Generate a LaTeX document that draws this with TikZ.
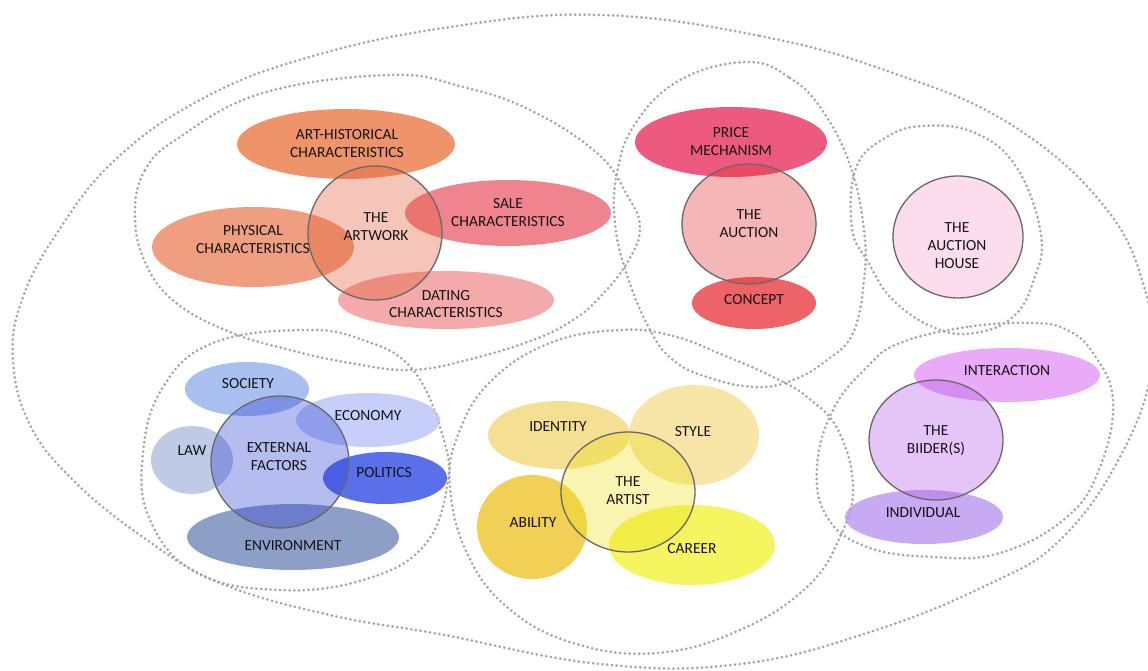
\documentclass[tikz,border=0pt]{standalone}
\usepackage{fontspec}
\setmainfont{Carlito}
\usetikzlibrary{shapes.geometric}
\definecolor{dotgray}{RGB}{165,165,165}
\definecolor{hubline}{RGB}{105,105,105}
\definecolor{txt}{RGB}{20,20,20}
% artwork cluster
\definecolor{cArtHist}{RGB}{236,122,69}
\definecolor{cPhys}{RGB}{236,136,96}
\definecolor{cSale}{RGB}{236,101,114}
\definecolor{cDating}{RGB}{242,149,149}
\definecolor{cArtwork}{RGB}{226,89,52}
% auction cluster
\definecolor{cPrice}{RGB}{234,49,96}
\definecolor{cConcept}{RGB}{234,61,66}
\definecolor{cAuction}{RGB}{224,46,46}
\definecolor{cHouse}{RGB}{252,221,238}
% external cluster
\definecolor{cSociety}{RGB}{148,176,236}
\definecolor{cEconomy}{RGB}{183,196,249}
\definecolor{cLaw}{RGB}{176,191,224}
\definecolor{cPolitics}{RGB}{49,76,229}
\definecolor{cEnv}{RGB}{114,135,186}
\definecolor{cExt}{RGB}{44,64,212}
% artist cluster
\definecolor{cIdentity}{RGB}{242,215,119}
\definecolor{cStyle}{RGB}{246,224,146}
\definecolor{cAbility}{RGB}{239,195,43}
\definecolor{cCareer}{RGB}{243,243,56}
\definecolor{cArtist}{RGB}{238,224,29}
% bidder cluster
\definecolor{cInter}{RGB}{228,149,246}
\definecolor{cIndiv}{RGB}{186,149,239}
\definecolor{cBidder}{RGB}{181,89,235}
\begin{document}
\begin{tikzpicture}[x=0.02cm,y=-0.02cm,
  region/.style={draw=dotgray, line width=1.7pt, dash pattern=on 0pt off 2.7pt, line cap=round},
  sat/.style={ellipse, draw=none, inner sep=0pt, outer sep=0pt, fill opacity=0.8},
  hub/.style={ellipse, draw=hubline, line width=0.75pt, inner sep=0pt, outer sep=0pt, fill opacity=0.35, draw opacity=1},
  lbl/.style={align=center, font=\fontsize{8.8}{10.2}\selectfont, text=txt, inner sep=0pt}]
\clip (0,0) rectangle (1148,671);
\fill[white] (0,0) rectangle (1148,671);

% ---- dotted regions ----
\draw[region] plot[smooth cycle, tension=0.7] coordinates {(600,15) (760,36) (890,72) (1010,124) (1104,206) (1145,290) (1152,367) (1120,457) (1060,540) (987,585) (870,632) (740,664) (600,664) (439,634) (330,615) (220,583) (140,535) (73,480) (30,425) (13,360) (22,300) (57,233) (115,160) (200,100) (306,58) (450,27)};
\draw[region] plot[smooth cycle, tension=0.7] coordinates {(135,215) (145,170) (180,137) (263,93) (390,75) (463,87) (530,110) (597,153) (627,195) (640,228) (627,263) (600,297) (573,320) (533,340) (467,360) (410,370) (350,363) (290,350) (230,332) (175,302) (145,262)};
\draw[region] plot[smooth cycle, tension=0.7] coordinates {(747,62) (790,78) (822,110) (850,165) (864,230) (864,280) (853,333) (827,360) (793,380) (755,387) (707,377) (673,360) (650,330) (627,275) (615,223) (617,173) (635,124) (680,80)};
\draw[region] plot[smooth cycle, tension=0.7] coordinates {(923,126) (975,133) (1017,168) (1041,235) (1034,279) (1014,316) (975,333) (935,328) (893,300) (868,262) (852,228) (856,168) (885,138)};
\draw[region] plot[smooth cycle, tension=0.7] coordinates {(1033,323) (967,327) (900,343) (867,367) (833,410) (817,467) (827,517) (867,547) (933,557) (1000,553) (1067,517) (1100,467) (1113,400) (1093,353) (1067,330)};
\draw[region] plot[smooth cycle, tension=0.7] coordinates {(303,330) (363,340) (413,370) (443,437) (447,487) (423,547) (363,580) (280,590) (197,573) (150,520) (143,453) (163,387) (213,343)};
\draw[region] plot[smooth cycle, tension=0.7] coordinates {(620,330) (673,336) (723,355) (773,377) (807,397) (838,430) (853,487) (840,537) (807,587) (740,630) (657,653) (573,643) (507,607) (467,553) (450,487) (458,435) (490,382) (550,343)};

% ---- satellites ----
\node[sat, fill=cArtHist, minimum width=4.36cm, minimum height=1.40cm] (arthist) at (346,144) {};
\node[sat, fill=cPhys, minimum width=4.04cm, minimum height=1.60cm] (phys) at (253,247) {};
\node[sat, fill=cSale, minimum width=4.12cm, minimum height=1.32cm] (sale) at (508,213) {};
\node[sat, fill=cDating, minimum width=4.32cm, minimum height=1.16cm] (dating) at (446,300) {};

\node[sat, fill=cPrice, minimum width=3.84cm, minimum height=1.40cm] (price) at (731,142) {};
\node[sat, fill=cConcept, minimum width=2.48cm, minimum height=1.04cm] (concept) at (754,303) {};

\node[sat, fill=cSociety, minimum width=2.48cm, minimum height=1.08cm] (society) at (247,389) {};
\node[sat, fill=cEconomy, minimum width=2.88cm, minimum height=1.08cm] (economy) at (368,420) {};
\node[sat, fill=cLaw, minimum width=1.64cm, minimum height=1.36cm] (law) at (192,460) {};
\node[sat, fill=cPolitics, minimum width=2.48cm, minimum height=1.04cm] (politics) at (385,478) {};
\node[sat, fill=cEnv, minimum width=4.24cm, minimum height=1.32cm] (env) at (293,537) {};

\node[sat, fill=cIdentity, minimum width=2.84cm, minimum height=1.36cm] (identity) at (559,435) {};
\node[sat, fill=cStyle, minimum width=2.60cm, minimum height=2.00cm] (style) at (694,435) {};
\node[sat, fill=cAbility, minimum width=2.20cm, minimum height=2.08cm] (ability) at (532,527) {};
\node[sat, fill=cCareer, minimum width=3.32cm, minimum height=1.60cm] (career) at (692,545) {};

\node[sat, fill=cInter, minimum width=3.72cm, minimum height=1.08cm] (inter) at (1007,375) {};
\node[sat, fill=cIndiv, minimum width=3.16cm, minimum height=1.08cm] (indiv) at (924,517) {};

% ---- hubs ----
\node[hub, fill=cArtwork, minimum width=2.68cm, minimum height=2.68cm] (artwork) at (375,233) {};
\node[hub, fill=cAuction, minimum width=2.68cm, minimum height=2.40cm] (auction) at (749,224) {};
\node[hub, fill=cHouse, fill opacity=1, minimum width=2.60cm, minimum height=2.44cm] (house) at (958,237) {};
\node[hub, fill=cExt, minimum width=2.76cm, minimum height=2.64cm] (ext) at (280,462) {};
\node[hub, fill=cArtist, minimum width=2.68cm, minimum height=2.40cm] (artist) at (628,492) {};
\node[hub, fill=cBidder, minimum width=2.68cm, minimum height=2.40cm] (bidder) at (936,440) {};

% ---- labels ----
\node[lbl] (tArtHist) at (347,144) {ART-HISTORICAL\\CHARACTERISTICS};
\node[lbl] (tArtwork) at (376,227) {THE\\ARTWORK};
\node[lbl] (tSale) at (508,213) {SALE\\CHARACTERISTICS};
\node[lbl] (tPhys) at (253,240) {PHYSICAL\\CHARACTERISTICS};
\node[lbl] (tDating) at (446,304) {DATING\\CHARACTERISTICS};
\node[lbl] (tPrice) at (731,142) {PRICE\\MECHANISM};
\node[lbl] (tAuction) at (749,224) {THE\\AUCTION};
\node[lbl] (tConcept) at (754,300) {CONCEPT};
\node[lbl] (tHouse) at (957,246) {THE\\AUCTION\\HOUSE};
\node[lbl] (tSociety) at (248,384) {SOCIETY};
\node[lbl] (tEconomy) at (368,416) {ECONOMY};
\node[lbl] (tLaw) at (192,451) {LAW};
\node[lbl] (tExt) at (279,457) {EXTERNAL\\FACTORS};
\node[lbl] (tPolitics) at (384,473) {POLITICS};
\node[lbl] (tEnv) at (293,546) {ENVIRONMENT};
\node[lbl] (tIdentity) at (558,427) {IDENTITY};
\node[lbl] (tStyle) at (693,432) {STYLE};
\node[lbl] (tAbility) at (533,523) {ABILITY};
\node[lbl] (tArtist) at (628,491) {THE\\ARTIST};
\node[lbl] (tCareer) at (692,549) {CAREER};
\node[lbl] (tInter) at (1007,371) {INTERACTION};
\node[lbl] (tBidder) at (936,441) {THE\\BIIDER(S)};
\node[lbl] (tIndiv) at (923,513) {INDIVIDUAL};
\end{tikzpicture}
\end{document}
